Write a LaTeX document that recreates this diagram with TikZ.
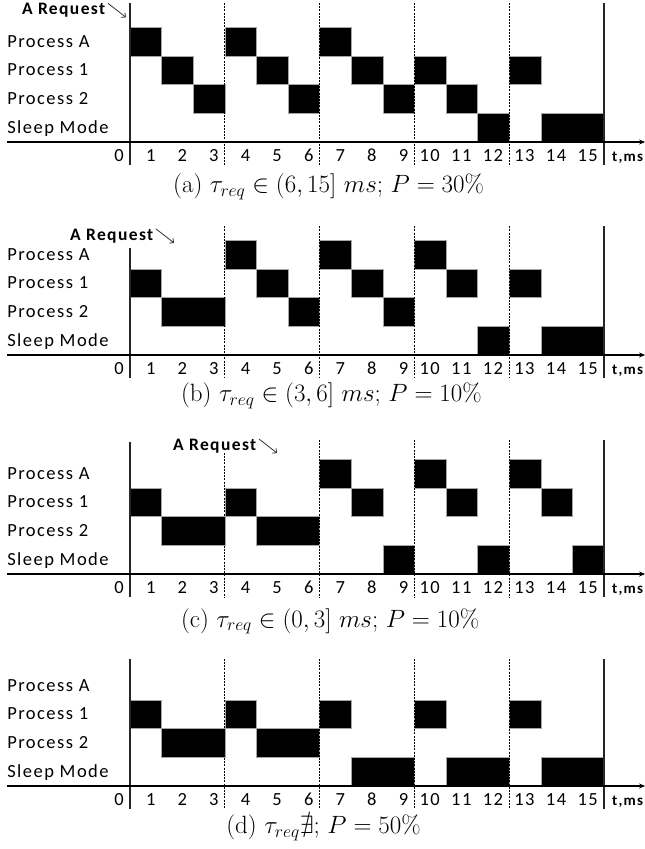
\RequirePackage{fix-cm}
\documentclass[tikz,border=0pt]{standalone}
\usepackage{fontspec}
\usepackage{amsmath, amssymb}
\usetikzlibrary{arrows.meta, positioning}
\newfontfamily\calibri[LetterSpace=8]{Carlito}

% frame of one time chart: #1 tag, #2 top of dashed and right lines, #3 top of left line
\newcommand{\timeframe}[3]{%
  \foreach \lab [count=\r from 0] in {Sleep Mode, Process 2, Process 1, Process A}
    \node (#1row\r) [rowlabel] at (-3.89,\r+0.5) {\lab};
  \draw [frameline] (0,#3) -- (0,-0.8);
  \draw [frameline] (15,#2) -- (15,-0.8);
  \foreach \k in {3,6,9,12}
    \draw [gridline] (\k,#2) -- (\k,-0.8);
  \coordinate (#1start) at (-3.89,0);
  \coordinate (#1end) at (16.3,0);
  \draw [axisline] (#1start) -- (#1end);
  \foreach \k in {0,...,15}
    \node (#1tick\k) [ticklabel] at (\k,-0.49) {\k};
  \node (#1unit) [unitlabel] at (15,-0.49) {t,ms};
}

\begin{document}
\begin{tikzpicture}[
        x=31.6pt, y=28.7pt,
        busy/.style={fill=black, draw=gray!70, line width=0.6pt},
        frameline/.style={draw=black!85, line width=1.2pt},
        gridline/.style={draw=black, line width=0.8pt, dash pattern=on 2pt off 1.2pt},
        axisline/.style={draw=black, line width=1.3pt, -{Stealth[length=6pt, width=5pt]}},
        reqarrow/.style={draw=black!80, line width=0.8pt, -{Straight Barb[length=3pt, width=6pt]}},
        rowlabel/.style={anchor=west, inner sep=0pt, text height=11pt, text depth=0pt, font=\calibri\fontsize{18.5}{19}\selectfont},
        ticklabel/.style={anchor=east, inner sep=0pt, xshift=-6pt, text height=11pt, text depth=0pt, font=\calibri\fontsize{18.5}{19}\selectfont},
        unitlabel/.style={anchor=west, inner sep=0pt, xshift=8pt, text height=11pt, text depth=0pt, font=\calibri\bfseries\fontsize{15}{16}\selectfont},
        request/.style={anchor=west, fill=white, inner sep=1.5pt, text height=10pt, text depth=0pt, font=\calibri\bfseries\fontsize{17.5}{18}\selectfont},
        caption/.style={anchor=west, inner sep=0pt, text height=17pt, text depth=6pt, font=\fontsize{25}{29}\selectfont}
    ]
    \useasboundingbox (-130pt,142pt) rectangle (515pt,-707pt);

    % (a)
    \foreach \row/\from/\to in {3/0/1, 3/3/4, 3/6/7, 2/1/2, 2/4/5, 2/7/8, 2/9/10, 2/12/13,
                                1/2/3, 1/5/6, 1/8/9, 1/10/11, 0/11/12, 0/13/15}
      \draw [busy] (\from,\row) rectangle (\to,\row+1);
    \timeframe{a}{4.84}{4.84}
    \node (reqa) [request] at (-3.47,4.60) {A Request};
    \coordinate (reqatip) at ([shift={(19pt,-14pt)}]reqa.north east);
    \draw [reqarrow] ([xshift=1pt]reqa.north east) -- (reqatip);
    \node (capa) [caption] at (1.36,-1.56) {(a) $\tau_{req} \in (6,15]~ms$; $P=30\%$};

    % (b)
    \begin{scope}[yshift=-213pt]
    \foreach \row/\from/\to in {3/3/4, 3/6/7, 3/9/10, 2/0/1, 2/4/5, 2/7/8, 2/10/11, 2/12/13,
                                1/1/3, 1/5/6, 1/8/9, 0/11/12, 0/13/15}
      \draw [busy] (\from,\row) rectangle (\to,\row+1);
    \timeframe{b}{4.49}{3.72}
    \node (reqb) [request] at (-1.95,4.16) {A Request};
    \coordinate (reqbtip) at ([shift={(19pt,-14pt)}]reqb.north east);
    \draw [reqarrow] ([xshift=1pt]reqb.north east) -- (reqbtip);
    \node (capb) [caption] at (1.61,-1.42) {(b) $\tau_{req} \in (3,6]~ms$; $P=10\%$};
    \end{scope}

    % (c)
    \begin{scope}[yshift=-432pt]
    \foreach \row/\from/\to in {3/6/7, 3/9/10, 3/12/13, 2/0/1, 2/3/4, 2/7/8, 2/10/11, 2/13/14,
                                1/1/3, 1/4/6, 0/8/9, 0/11/12, 0/14/15}
      \draw [busy] (\from,\row) rectangle (\to,\row+1);
    \timeframe{c}{4.67}{4.61}
    \node (reqc) [request] at (1.31,4.47) {A Request};
    \coordinate (reqctip) at ([shift={(19pt,-14pt)}]reqc.north east);
    \draw [reqarrow] ([xshift=1pt]reqc.north east) -- (reqctip);
    \node (capc) [caption] at (1.61,-1.66) {(c) $\tau_{req} \in (0,3]~ms$; $P=10\%$};
    \end{scope}

    % (d)
    \begin{scope}[yshift=-644pt]
    \foreach \row/\from/\to in {2/0/1, 2/3/4, 2/6/7, 2/9/10, 2/12/13,
                                1/1/3, 1/4/6, 0/7/9, 0/10/12, 0/13/15}
      \draw [busy] (\from,\row) rectangle (\to,\row+1);
    \timeframe{d}{4.43}{4.43}
    \node (capd) [caption] at (3.04,-1.48) {(d) $\tau_{req}\nexists$; $P=50\%$};
    \end{scope}

\end{tikzpicture}
\end{document}
